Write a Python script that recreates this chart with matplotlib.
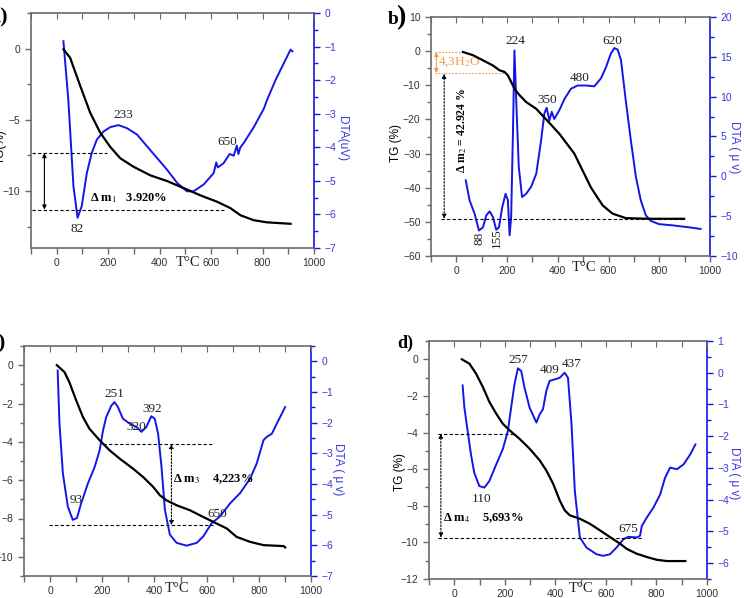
import numpy as np
import matplotlib.pyplot as plt
from matplotlib.ticker import MultipleLocator

plt.rcParams['mathtext.fontset'] = 'stix'

SERIF = ['Liberation Serif', 'DejaVu Serif']
SANS = ['Liberation Sans', 'DejaVu Sans']
BLUE = '#1515e8'
LABEL_BLUE = '#3a3ad8'
ORANGE = '#f29a48'
GRAY = '#6a6a6a'

# ---- panel a ----
a_tg_t = [26, 52, 91, 130, 169, 208, 247, 299, 364, 429, 494, 558, 623, 675, 714, 766, 818, 909]
a_tg = [-0.05, -0.64, -2.6, -4.5, -5.9, -6.9, -7.7, -8.3, -8.9, -9.3, -9.8, -10.3, -10.75, -11.2,
        -11.7, -12.05, -12.2, -12.3]
a_dta_t = [26, 45, 65, 81, 97, 117, 136, 156, 182, 208, 240, 273, 312, 351, 390, 429, 468, 506, 532,
           571, 610, 620, 626, 649, 672, 688, 700, 706, 714, 727, 766, 805, 818, 851, 883, 909, 916]
a_dta = [-0.84, -2.58, -5.16, -6.1, -5.76, -4.77, -4.17, -3.77, -3.53, -3.4, -3.34, -3.43, -3.62,
         -3.97, -4.32, -4.67, -5.06, -5.31, -5.31, -5.11, -4.77, -4.45, -4.6, -4.47, -4.2, -4.25,
         -3.95, -4.2, -4.0, -3.87, -3.4, -2.85, -2.58, -1.99, -1.49, -1.09, -1.14]

# ---- panel b ----
b_tg_t = [26, 66, 105, 144, 170, 190, 203, 216, 229, 249, 275, 315, 354, 406, 465, 531, 577, 616,
          668, 760, 898]
b_tg = [-0.25, -1.2, -2.7, -4.2, -5.6, -6.1, -7.1, -9.0, -11.0, -12.9, -14.9, -16.9, -20.0, -24.2,
        -30.0, -40.0, -45.2, -47.6, -48.9, -49.1, -49.1]
b_dta_t = [37, 52, 72, 89, 105, 118, 131, 144, 157, 168, 181, 194, 203, 210, 216, 223, 229, 236,
           246, 259, 275, 295, 315, 334, 347, 356, 367, 376, 386, 406, 426, 452, 478, 511, 544, 570,
           590, 609, 623, 636, 649, 668, 688, 708, 727, 747, 767, 799, 852, 917, 963]
b_dta = [-0.5, -3.0, -4.7, -6.8, -6.4, -4.9, -4.4, -5.1, -6.7, -6.4, -3.85, -2.2, -3.0, -7.4, -5.1,
         5.35, 15.8, 9.5, 1.2, -2.6, -2.2, -1.3, 0.33, 4.5, 7.9, 8.6, 7.0, 8.1, 7.2, 8.3, 9.7, 11.0,
         11.4, 11.4, 11.3, 12.3, 13.7, 15.4, 16.1, 15.9, 14.6, 9.5, 4.5, -0.1, -3.0, -4.9, -5.6,
         -6.0, -6.15, -6.4, -6.6]

# ---- panel c ----
c_tg_t = [26, 55, 74, 100, 126, 151, 190, 228, 267, 318, 356, 395, 421, 446, 485, 536, 587, 638,
          677, 715, 767, 818, 895, 901]
c_tg = [0.0, -0.36, -0.89, -1.84, -2.71, -3.32, -3.92, -4.44, -4.88, -5.4, -5.83, -6.35, -6.79,
        -7.05, -7.31, -7.57, -7.92, -8.26, -8.52, -8.96, -9.22, -9.39, -9.44, -9.51]
c_dta_t = [29, 36, 49, 68, 87, 103, 119, 145, 171, 190, 203, 215, 235, 247, 260, 279, 305, 331,
           350, 369, 388, 401, 414, 427, 440, 459, 485, 523, 562, 587, 619, 651, 690, 728, 767,
           792, 818, 831, 850, 869, 888, 901]
c_dta = [-0.3, -2.03, -3.65, -4.74, -5.17, -5.11, -4.63, -3.98, -3.44, -2.9, -2.25, -1.82, -1.44,
         -1.33, -1.49, -1.87, -2.03, -2.14, -2.3, -2.14, -1.79, -1.87, -2.36, -3.44, -4.84, -5.65,
         -5.92, -6.01, -5.92, -5.71, -5.28, -5.06, -4.63, -4.3, -3.82, -3.33, -2.57, -2.46, -2.36,
         -2.03, -1.71, -1.49]

# ---- panel d ----
d_tg_t = [30, 60, 86, 113, 139, 166, 192, 219, 258, 298, 338, 364, 391, 417, 437, 457, 497, 536,
          576, 616, 656, 682, 722, 762, 801, 841, 914]
d_tg = [0.0, -0.24, -0.78, -1.51, -2.33, -2.97, -3.52, -3.88, -4.34, -4.88, -5.52, -6.07, -6.79,
        -7.7, -8.25, -8.52, -8.71, -8.98, -9.34, -9.71, -10.07, -10.35, -10.62, -10.8, -10.95,
        -11.02, -11.02]
d_dta_t = [33, 40, 53, 66, 79, 99, 119, 139, 166, 192, 212, 225, 238, 252, 265, 278, 298, 325, 338,
           351, 364, 377, 397, 417, 437, 450, 464, 477, 497, 523, 563, 589, 616, 642, 669, 689, 722,
           735, 742, 762, 788, 815, 834, 854, 881, 907, 934, 954]
d_dta = [-0.4, -1.1, -1.84, -2.57, -3.15, -3.57, -3.62, -3.41, -2.89, -2.41, -1.84, -1.1, -0.37,
         0.14, 0.05, -0.47, -1.1, -1.57, -1.31, -1.15, -0.58, -0.26, -0.21, -0.16, 0.0, -0.16,
         -1.63, -3.73, -5.19, -5.51, -5.72, -5.77, -5.72, -5.51, -5.25, -5.17, -5.19, -5.14, -4.83,
         -4.56, -4.25, -3.83, -3.31, -2.99, -3.04, -2.89, -2.57, -2.26]

fig = plt.figure(figsize=(7.44, 5.98), dpi=100)


def px_rect(l, t, r, b):
    return [l / 744, 1 - b / 598, (r - l) / 744, (b - t) / 598]


def fig_text(x, y, s, **kw):
    fig.text(x / 744, 1 - y / 598, s, **kw)


def make_panel(rect, tg_t, tg, dta_t, dta, tg_lim, tg_step, dta_lim, dta_step):
    ax = fig.add_axes(rect)
    ax2 = ax.twinx()
    ax.set_xlim(-100, 1000)
    ax.set_ylim(*tg_lim)
    ax2.set_ylim(*dta_lim)
    ax.xaxis.set_major_locator(MultipleLocator(200))
    ax.xaxis.set_minor_locator(MultipleLocator(100))
    ax.yaxis.set_major_locator(MultipleLocator(tg_step))
    ax.yaxis.set_minor_locator(MultipleLocator(tg_step / 2))
    ax2.yaxis.set_major_locator(MultipleLocator(dta_step))
    ax2.yaxis.set_minor_locator(MultipleLocator(dta_step / 2))

    for s in ['left', 'bottom', 'top']:
        ax.spines[s].set_color(GRAY)
        ax.spines[s].set_linewidth(1.2)
        ax2.spines[s].set_visible(False)
    ax.spines['right'].set_visible(False)
    ax2.spines['right'].set_color(BLUE)
    ax2.spines['right'].set_linewidth(1.2)

    ax.tick_params(which='both', direction='out', colors=GRAY, labelcolor='#333333',
                   labelsize=7.5, width=1)
    ax.tick_params(which='major', length=4)
    ax.tick_params(which='minor', length=3)
    ax.tick_params(axis='x', which='minor', length=4)
    ax2.tick_params(which='both', direction='out', colors=BLUE, labelcolor=LABEL_BLUE,
                    labelsize=7.5, width=1)
    ax2.tick_params(which='major', length=4)
    ax2.tick_params(which='minor', length=3)
    for lab in ax.get_xticklabels() + ax.get_yticklabels() + ax2.get_yticklabels():
        lab.set_family(SANS)

    top = ax.secondary_xaxis('top')
    top.xaxis.set_major_locator(MultipleLocator(100))
    top.tick_params(direction='in', length=4, colors=GRAY, labeltop=False)
    top.spines['top'].set_visible(False)

    ax2.plot(dta_t, dta, color=BLUE, lw=1.4)
    ax.plot(tg_t, tg, color='black', lw=1.6, zorder=5)
    ax.set_zorder(ax2.get_zorder() + 1)
    ax.patch.set_visible(False)
    return ax, ax2


def xlabel(ax, t, dy):
    ax.annotate('T°C', xy=(t, 0), xycoords=('data', 'axes fraction'), xytext=(0, -dy),
                textcoords='offset pixels', ha='center', va='center', family=SERIF, fontsize=10.5,
                color='#222222', annotation_clip=False)


def peak(ax, s, x, y, rot=0):
    ax.text(x, y, s, family=SERIF, fontsize=9.5, ha='center', va='center', color='#222222',
            rotation=rot)


def hdash(ax, x0, x1, y, color='black', ls=(0, (3, 2))):
    ax.plot([x0, x1], [y, y], color=color, lw=0.8, ls=ls)


def varrow(ax, x, y0, y1, color='black', ls='-'):
    ax.annotate('', xy=(x, y1), xytext=(x, y0),
                arrowprops=dict(arrowstyle='<|-|>', color=color, lw=0.8, ls=ls,
                                mutation_scale=6, shrinkA=0, shrinkB=0))


# panel a
ax, ax2 = make_panel(px_rect(31, 13, 314, 248), a_tg_t, a_tg, a_dta_t, a_dta,
                     (-14, 2.5), 5, (-7, 0), 1)
hdash(ax, -95, 195, -7.34)
hdash(ax, -95, 650, -11.3)
varrow(ax, -48, -7.34, -11.3)
ax.text(130, -10.47, 'Δ m$_1$   3.920%', family=SERIF, fontsize=9, fontweight='bold',
        ha='left', va='center')
peak(ax, '82', 81, -12.7)
peak(ax, '233', 257, -4.64)
peak(ax, '650', 662, -6.59)
xlabel(ax, 512, 15)
fig_text(8, 17, 'a)', family=SERIF, fontsize=16, fontweight='bold', ha='right', va='center')
fig_text(1, 147, 'TG(%)', family=SANS, fontsize=8.5, rotation=90, ha='center', va='center')
fig_text(342, 139, 'DTA(uV)', family=SANS, fontsize=8.5, rotation=270, ha='center', va='center',
         color=LABEL_BLUE)

# panel b
ax, ax2 = make_panel(px_rect(431, 17, 710, 256), b_tg_t, b_tg, b_dta_t, b_dta,
                     (-60, 10), 10, (-10, 20), 5)
hdash(ax, -59, 898, -49.1)
hdash(ax, -85, 26, -0.3, color=ORANGE, ls=(0, (1.5, 1.5)))
hdash(ax, -85, 190, -6.4, color=ORANGE, ls=(0, (1.5, 1.5)))
varrow(ax, -79, -0.3, -6.4, color=ORANGE)
varrow(ax, -48, -6.6, -49.1, ls=(0, (1.5, 1.5)))
ax.text(-72, -3.2, '4,3H$_2$O', family=SERIF, fontsize=9.5, color=ORANGE, ha='left',
        va='center')
ax.text(24, -23.2, 'Δ m$_2$ = 42.924 %', family=SERIF, fontsize=8.5, fontweight='bold',
        rotation=90, ha='center', va='center')
peak(ax, '224', 233, 2.97)
peak(ax, '620', 616, 2.97)
peak(ax, '480', 485, -7.77)
peak(ax, '350', 360, -14.2)
peak(ax, '88', 92, -54.9, rot=90)
peak(ax, '155', 160, -54.9, rot=90)
xlabel(ax, 505, 12)
fig_text(393, 19, 'b', family=SERIF, fontsize=14, fontweight='bold', ha='center', va='center')
fig_text(401, 18, ')', family=SERIF, fontsize=20, fontweight='bold', ha='center', va='center')
fig_text(396, 143, 'TG (%)', family=SANS, fontsize=8.5, rotation=90, ha='center', va='center')
fig_text(734, 147, 'DTA ( μ v)', family=SANS, fontsize=8.5, rotation=270, ha='center',
         va='center', color=LABEL_BLUE)

# panel c
ax, ax2 = make_panel(px_rect(24, 346, 311, 576), c_tg_t, c_tg, c_dta_t, c_dta,
                     (-11, 1), 2, (-7, 0.5), 1)
hdash(ax, 203, 626, -4.11)
hdash(ax, -3, 626, -8.35)
varrow(ax, 465, -4.11, -8.35, ls=(0, (1.5, 1.5)))
ax.text(472, -5.95, 'Δ m$_3$    4,223%', family=SERIF, fontsize=9, fontweight='bold',
        ha='left', va='center')
peak(ax, '251', 247, -1.49)
peak(ax, '320', 331, -3.23)
peak(ax, '392', 392, -2.27)
peak(ax, '93', 100, -7.01)
peak(ax, '650', 641, -7.78)
xlabel(ax, 485, 12)
fig_text(6, 343, 'c)', family=SERIF, fontsize=16, fontweight='bold', ha='right', va='center')
fig_text(338, 469, 'DTA ( μ v)', family=SANS, fontsize=8.5, rotation=270, ha='center',
         va='center', color=LABEL_BLUE)

# panel d
ax, ax2 = make_panel(px_rect(429, 341, 707, 579), d_tg_t, d_tg, d_dta_t, d_dta,
                     (-12, 1), 2, (-6.5, 1), 1)
hdash(ax, -66, 238, -4.06)
hdash(ax, -66, 748, -9.74)
varrow(ax, -53, -4.06, -9.74, ls=(0, (1.5, 1.5)))
ax.text(-46, -8.67, 'Δ m$_4$    5,693%', family=SERIF, fontsize=9, fontweight='bold',
        ha='left', va='center')
peak(ax, '110', 110, -7.61)
peak(ax, '257', 252, -0.05)
peak(ax, '409', 377, -0.6)
peak(ax, '437', 464, -0.24)
peak(ax, '675', 689, -9.25)
xlabel(ax, 503, 9)
fig_text(405, 343, 'd)', family=SERIF, fontsize=13, fontweight='bold', ha='center', va='center')
fig_text(400, 472, 'TG (%)', family=SANS, fontsize=8.5, rotation=90, ha='center', va='center')
fig_text(734, 473, 'DTA ( μ v)', family=SANS, fontsize=8.5, rotation=270, ha='center',
         va='center', color=LABEL_BLUE)

fig.savefig('out.png', dpi=100)
